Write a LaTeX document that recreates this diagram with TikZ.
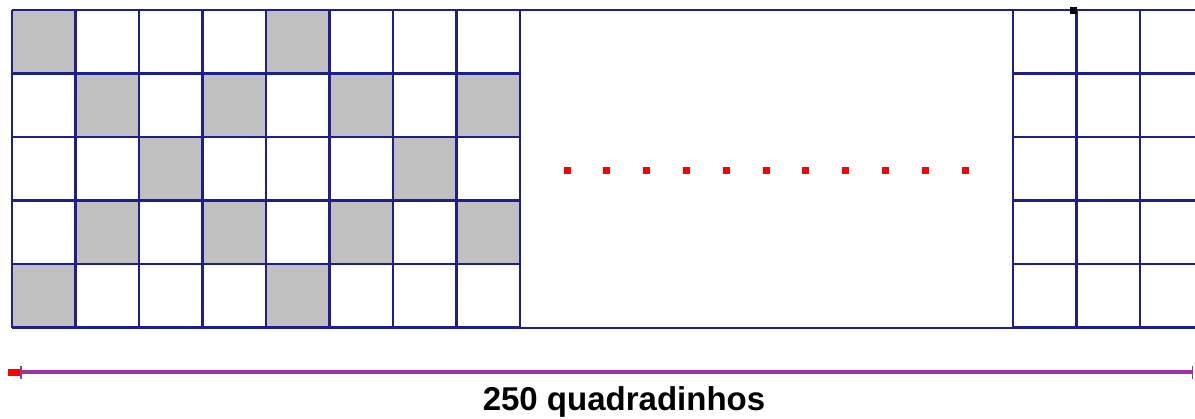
\documentclass[tikz,border=0pt]{standalone}
\usepackage{fontspec}
\setmainfont{Liberation Sans}
\usetikzlibrary{calc}
\usetikzlibrary{arrows.meta}

\definecolor{gridblue}{RGB}{30,30,145}
\definecolor{cellgray}{RGB}{192,192,192}
\definecolor{rulepurple}{RGB}{160,50,160}

\begin{document}
\begin{tikzpicture}[x=1pt, y=-1pt,
    gridline/.style={draw=gridblue, line width=2.8pt},
    graycell/.style={fill=cellgray}]

    \useasboundingbox (0, 0) rectangle (1195, 418);

    \coordinate (O) at (12, 10);
    \coordinate (M1) at (520, 10);
    \coordinate (M2) at (1013, 328);
    \coordinate (R) at (1195, 10);

    % shaded squares of the pattern
    \foreach \c/\r in {0/0, 4/0, 1/1, 3/1, 5/1, 7/1, 2/2, 6/2, 1/3, 3/3, 5/3, 7/3, 0/4, 4/4}
        \fill[graycell] ($(O) + (63.5*\c, 63.5*\r)$) rectangle ++(63.5, 63.5);

    % left grid
    \foreach \i in {0,...,8}
        \draw[gridline] ($(O) + (63.5*\i, 0)$) -- ++(0, 317.5);
    \foreach \j in {0,...,5}
        \draw[gridline] ($(O) + (0, 63.5*\j)$) -- ++(508, 0);

    % middle part
    \draw[gridline] (M1) rectangle (M2);

    % right grid
    \foreach \i in {0,1,2}
        \draw[gridline] ($(M2) + (63.5*\i, -318)$) -- ++(0, 318);
    \foreach \j in {0,...,5}
        \draw[gridline] ($(M2) + (0, -318 + 63.5*\j)$) -- ++(182, 0);

    \fill[black] ($(R) + (-121.5, 0)$) ++(-3.5, -3.5) rectangle ++(7, 7);

    % dots
    \foreach \k in {0,...,10}
        \fill[red] ($(M1) + (47 + 39.8*\k, 160)$) ++(-3.5, -3.5) rectangle ++(7, 7);

    % measure
    \coordinate (L1) at (20, 372);
    \coordinate (L2) at (1193, 372);
    \fill[red] (8, 368.5) rectangle (20, 375.5);
    \draw[rulepurple, line width=3.2pt, {Bar[width=13pt, line width=1.5pt]}-{Bar[width=13pt, line width=1.5pt]}] (L1) -- (L2);
    \node (lbl) at (624, 402) {\fontsize{33}{34}\selectfont\bfseries 250 quadradinhos};

\end{tikzpicture}
\end{document}
